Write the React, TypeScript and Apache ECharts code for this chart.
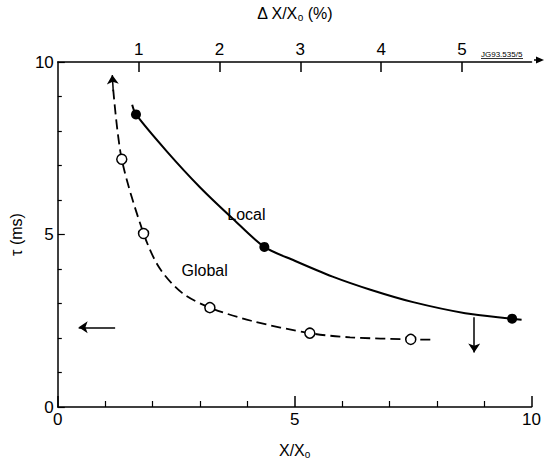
import React, { useEffect, useRef } from "react";
import * as echarts from "echarts";

// Local (filled circles): measured points
const localPoints: [number, number][] = [
  [1.65, 8.48],
  [4.36, 4.64],
  [9.59, 2.56],
];
// Local curve trace
const localCurve: [number, number][] = [
  [1.57, 8.76],
  [1.65, 8.48],
  [2.3, 7.41],
  [3.0, 6.37],
  [3.7, 5.45],
  [4.36, 4.64],
  [5.0, 4.24],
  [5.8, 3.78],
  [6.6, 3.4],
  [7.5, 3.04],
  [8.6, 2.72],
  [9.59, 2.56],
  [9.79, 2.53],
];
// Global (open circles): measured points
const globalPoints: [number, number][] = [
  [1.35, 7.18],
  [1.81, 5.03],
  [3.21, 2.88],
  [5.32, 2.14],
  [7.45, 1.96],
];
// Global curve trace (dashed)
const globalCurve: [number, number][] = [
  [1.17, 9.2],
  [1.35, 7.18],
  [1.81, 5.03],
  [2.15, 4.02],
  [2.63, 3.3],
  [3.21, 2.88],
  [4.08, 2.5],
  [5.32, 2.14],
  [6.17, 2.02],
  [7.45, 1.96],
  [7.92, 1.95],
];
// Arrows: [from, to]
const arrows: [[number, number], [number, number]][] = [
  [[1.17, 9.15], [1.15, 9.62]],
  [[1.21, 2.31], [0.44, 2.31]],
  [[8.79, 2.6], [8.79, 1.58]],
];
const labelsText = [
  { name: "Local", value: [3.98, 5.57] },
  { name: "Global", value: [3.1, 3.96] },
];
const bottomTicks = [0, 5, 10];
const topTicks = [1, 2, 3, 4, 5];
const topRange = [0, 5.86];

const FONT = "Liberation Sans, Arial, Helvetica, sans-serif";

export default function App() {
  const ref = useRef<HTMLDivElement>(null);
  useEffect(() => {
    const chart = echarts.init(ref.current!, null, { renderer: "svg" });
    const gridLeft = 54;
    const gridTop = 60;
    const gridW = 480;
    const gridH = 351;
    const black = "#000";
    const subRich = {
      sub: { fontSize: 10, verticalAlign: "bottom", padding: [8, 0, 0, 0], fontFamily: FONT, color: black },
    };
    chart.setOption({
      animation: false,
      backgroundColor: "#fff",
      textStyle: { fontFamily: FONT, color: black },
      grid: { left: gridLeft, top: gridTop, width: gridW, height: gridH },
      xAxis: [
        {
          type: "value",
          position: "bottom",
          min: bottomTicks[0],
          max: bottomTicks[bottomTicks.length - 1],
          interval: 5,
          name: "X/X{sub|o}",
          nameLocation: "middle",
          nameGap: 34,
          nameTextStyle: { fontSize: 16, color: black, fontFamily: FONT, rich: subRich },
          axisLine: { show: true, lineStyle: { color: black, width: 1.5 } },
          axisTick: { show: true, inside: true, length: 11, lineStyle: { color: black, width: 1.5 } },
          minorTick: { show: true, splitNumber: 5, length: 6, lineStyle: { color: black, width: 1.2 } },
          axisLabel: { fontSize: 17, color: black, margin: 4, fontFamily: FONT },
          splitLine: { show: false },
        },
        {
          type: "value",
          position: "top",
          min: topRange[0],
          max: topRange[1],
          name: "Δ X/X{sub|o} (%)",
          nameLocation: "middle",
          nameGap: 40,
          nameTextStyle: { fontSize: 16, color: black, fontFamily: FONT, rich: subRich },
          axisLine: { show: true, lineStyle: { color: black, width: 1.5 } },
          axisTick: { show: true, inside: true, length: 10, customValues: topTicks, lineStyle: { color: black, width: 1.5 } },
          axisLabel: { fontSize: 17, color: black, margin: 4, customValues: topTicks, fontFamily: FONT },
          splitLine: { show: false },
        },
      ],
      yAxis: {
        type: "value",
        min: 0,
        max: 10,
        interval: 5,
        name: "τ (ms)",
        nameLocation: "middle",
        nameGap: 28,
        nameRotate: 90,
        nameTextStyle: { fontSize: 16, color: black, fontFamily: FONT },
        axisLine: { show: true, lineStyle: { color: black, width: 1.5 } },
        axisTick: { show: true, inside: true, length: 7, lineStyle: { color: black, width: 1.2 } },
        minorTick: { show: true, splitNumber: 5, length: 4, lineStyle: { color: black, width: 1.2 } },
        axisLabel: { fontSize: 17, color: black, margin: 4, fontFamily: FONT },
        splitLine: { show: false },
      },
      series: [
        {
          type: "line",
          name: "Local curve",
          data: localCurve,
          smooth: 0.3,
          showSymbol: false,
          symbol: "none",
          lineStyle: { color: black, width: 2 },
          z: 2,
        },
        {
          type: "line",
          name: "Global curve",
          data: globalCurve,
          smooth: 0.3,
          showSymbol: false,
          symbol: "none",
          lineStyle: { color: black, width: 1.8, type: [10, 5] },
          z: 2,
        },
        {
          type: "scatter",
          name: "Local",
          data: localPoints,
          symbol: "circle",
          symbolSize: 10,
          itemStyle: { color: black, opacity: 1 },
          z: 4,
        },
        {
          type: "scatter",
          name: "Global",
          data: globalPoints,
          symbol: "circle",
          symbolSize: 10,
          itemStyle: { color: "#fff", borderColor: black, borderWidth: 1.5, opacity: 1 },
          z: 4,
        },
        {
          type: "lines",
          coordinateSystem: "cartesian2d",
          data: arrows.map((a) => ({ coords: a })),
          symbol: ["none", "arrow"],
          symbolSize: [0, 9],
          lineStyle: { color: black, width: 1.5, opacity: 1 },
          z: 3,
        },
        {
          type: "scatter",
          name: "labels",
          data: labelsText,
          symbolSize: 0,
          itemStyle: { opacity: 1 },
          label: {
            show: true,
            position: "inside",
            formatter: (p: any) => p.name,
            fontSize: 16,
            color: black,
            fontFamily: FONT,
          },
          z: 5,
        },
      ],
      graphic: [
        {
          type: "line",
          shape: { x1: gridLeft + gridW, y1: gridTop, x2: 538, y2: gridTop },
          style: { stroke: black, lineWidth: 1.5 },
        },
        {
          type: "polygon",
          shape: { points: [[536, gridTop - 3.5], [544, gridTop], [536, gridTop + 3.5]] },
          style: { fill: black },
        },
        {
          type: "text",
          x: 481,
          y: 50,
          style: { text: "JG93.535/5", fontSize: 8, fill: black, fontFamily: FONT },
        },
        {
          type: "line",
          shape: { x1: 481, y1: 58.5, x2: 523, y2: 58.5 },
          style: { stroke: black, lineWidth: 0.8 },
        },
      ],
    });
    return () => chart.dispose();
  }, []);
  return (
    <div
      ref={ref}
      style={{ position: "fixed", left: 0, top: 0, width: 544, height: 464, background: "#fff" }}
    />
  );
}
